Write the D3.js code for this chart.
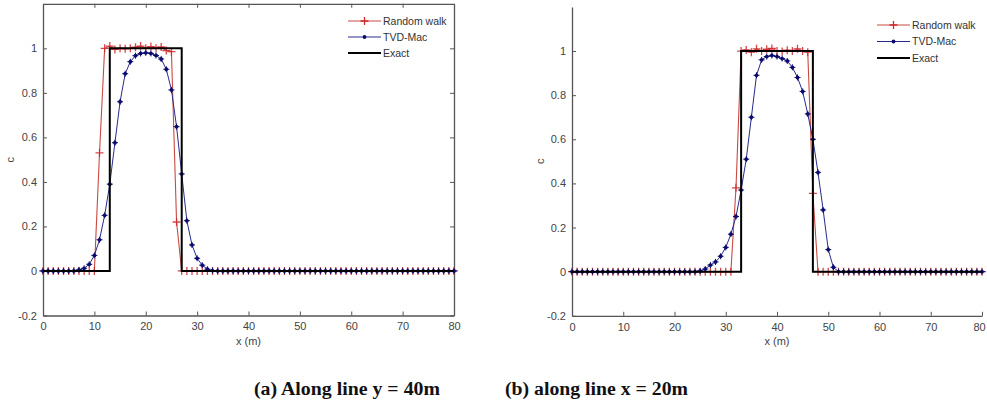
<!DOCTYPE html>
<html>
<head>
<meta charset="utf-8">
<script src="https://cdn.jsdelivr.net/npm/d3@7"></script>
<style>
  body { margin: 0; background: #fff; }
  svg { display: block; }
</style>
</head>
<body>
<div id="chart"></div>
<script>
// x grid (m), shared by both panels
const xGrid = [0,1,2,3,4,5,6,7,8,9,10,11,12,13,14,15,16,17,18,19,20,21,22,23,24,25,26,27,28,29,30,
  31,32,33,34,35,36,37,38,39,40,41,42,43,44,45,46,47,48,49,50,51,52,53,54,55,56,57,58,59,60,
  61,62,63,64,65,66,67,68,69,70,71,72,73,74,75,76,77,78,79,80];

// (a) along line y = 40m
const randomWalkA = [
  0,0,0,0,0,0,0,0,0,0,
  0,0.53,1.00,1.01,0.995,1.0,0.998,1.0,1.005,1.01,
  1.0,1.008,1.0,1.006,0.99,0.985,0.22,0,0,0,
  0,0,0,0,0,0,0,0,0,0,
  0,0,0,0,0,0,0,0,0,0,
  0,0,0,0,0,0,0,0,0,0,
  0,0,0,0,0,0,0,0,0,0,
  0,0,0,0,0,0,0,0,0,0,
  0];
const tvdMacA = [
  0,0,0,0,0,0,0,0.005,0.012,0.03,
  0.07,0.14,0.25,0.39,0.576,0.76,0.886,0.94,0.967,0.977,
  0.98,0.977,0.968,0.952,0.906,0.813,0.648,0.436,0.226,0.117,
  0.057,0.026,0.008,0.002,0,0,0,0,0,0,
  0,0,0,0,0,0,0,0,0,0,
  0,0,0,0,0,0,0,0,0,0,
  0,0,0,0,0,0,0,0,0,0,
  0,0,0,0,0,0,0,0,0,0,
  0];
const exactXA = [0, 13, 13, 27, 27, 80];
const exactYA = [0, 0, 1, 1, 0, 0];

// (b) along line x = 20m
const randomWalkB = [
  0,0,0,0,0,0,0,0,0,0,
  0,0,0,0,0,0,0,0,0,0,
  0,0,0,0,0,0,0,0,0,0,
  0,0,0.38,1.0,1.005,0.995,1.01,1.0,1.008,1.012,
  1.0,0.998,1.004,1.0,1.01,1.0,0.995,0.355,0,0,
  0,0,0,0,0,0,0,0,0,0,
  0,0,0,0,0,0,0,0,0,0,
  0,0,0,0,0,0,0,0,0,0,
  0];
const tvdMacB = [
  0,0,0,0,0,0,0,0,0,0,
  0,0,0,0,0,0,0,0,0,0,
  0,0,0,0,0,0.003,0.012,0.03,0.044,0.07,
  0.11,0.17,0.25,0.37,0.51,0.70,0.89,0.96,0.975,0.98,
  0.975,0.966,0.955,0.926,0.88,0.817,0.715,0.60,0.45,0.28,
  0.10,0.02,0,0,0,0,0,0,0,0,
  0,0,0,0,0,0,0,0,0,0,
  0,0,0,0,0,0,0,0,0,0,
  0];
const exactXB = [0, 33, 33, 47, 47, 80];
const exactYB = [0, 0, 1, 1, 0, 0];

const xTicks = [0, 10, 20, 30, 40, 50, 60, 70, 80];
const yTicks = [-0.2, 0, 0.2, 0.4, 0.6, 0.8, 1];
const yTickLabels = ['-0.2', '0', '0.2', '0.4', '0.6', '0.8', '1'];
const seriesNames = ['Random walk', 'TVD-Mac', 'Exact'];
const captions = ['(a) Along line y = 40m', '(b) along line x = 20m'];

const W = 987, H = 407;
const red = '#c94a44', redMark = '#d0282a', blue = '#2a2a8c', blueMark = '#0c0c6e', axisCol = '#555';

const svg = d3.select('#chart').append('svg')
    .attr('width', W)
    .attr('height', H)
    .style('font-family', '"Liberation Sans", Arial, sans-serif');

const crossPath = r => `M${-r},0H${r}M0,${-r}V${r}`;

function drawPanel(p) {
    const x = d3.scaleLinear().domain([0, 80]).range([p.x0, p.x1]);
    const y = d3.scaleLinear().domain([-0.2, 1.2]).range([p.yBottom, p.yTop]);
    const g = svg.append('g');

    const fmtY = d => yTickLabels[yTicks.indexOf(d)];

    const xAxis = g.append('g')
        .attr('transform', `translate(0,${p.yBottom})`)
        .call(d3.axisBottom(x).tickValues(xTicks).tickSizeInner(-4).tickSizeOuter(0).tickPadding(7).tickFormat(d3.format('d')));
    const yAxis = g.append('g')
        .attr('transform', `translate(${p.x0},0)`)
        .call(d3.axisLeft(y).tickValues(yTicks).tickSizeInner(-4).tickSizeOuter(0).tickPadding(6).tickFormat(fmtY));

    // keep the last x label inside the window
    if (p.x1 > W - 10) {
        xAxis.selectAll('.tick text').filter(d => d === 80).attr('dx', -3);
    }

    if (p.box) {
        g.append('g')
            .attr('transform', `translate(0,${p.yTop})`)
            .call(d3.axisTop(x).tickValues(xTicks).tickSizeInner(-4).tickSizeOuter(0).tickFormat(''));
        g.append('g')
            .attr('transform', `translate(${p.x1},0)`)
            .call(d3.axisRight(y).tickValues(yTicks).tickSizeInner(-4).tickSizeOuter(0).tickFormat(''));
    }
    g.selectAll('.domain').attr('stroke', axisCol).attr('stroke-width', 1.3);
    g.selectAll('.tick line').attr('stroke', axisCol);
    g.selectAll('.tick text').attr('fill', '#444').style('font-size', '11px');

    const pts = vals => xGrid.map((xv, i) => [xv, vals[i]]);
    const line = d3.line().x(d => x(d[0])).y(d => y(d[1]));

    // random walk
    g.append('path').datum(pts(p.rw))
        .attr('fill', 'none').attr('stroke', red).attr('stroke-width', 1.1)
        .attr('d', line);
    g.append('g').selectAll('path').data(pts(p.rw)).join('path')
        .attr('transform', d => `translate(${x(d[0])},${y(d[1])})`)
        .attr('d', crossPath(4))
        .attr('stroke', redMark).attr('stroke-width', 1.3).attr('opacity', 0.85);

    // tvd-mac
    g.append('path').datum(pts(p.tvd))
        .attr('fill', 'none').attr('stroke', blue).attr('stroke-width', 1)
        .attr('d', line);
    const bm = g.append('g').selectAll('g').data(pts(p.tvd)).join('g')
        .attr('transform', d => `translate(${x(d[0])},${y(d[1])})`);
    bm.append('circle').attr('r', 1.9).attr('fill', blueMark);
    bm.append('path').attr('d', crossPath(3)).attr('stroke', blueMark).attr('stroke-width', 1);

    // exact
    g.append('path').datum(p.ex.map((xv, i) => [xv, p.ey[i]]))
        .attr('fill', 'none').attr('stroke', '#000').attr('stroke-width', 2)
        .attr('d', line);

    // axis labels
    g.append('text')
        .attr('x', (p.x0 + p.x1) / 2).attr('y', 345)
        .attr('text-anchor', 'middle').attr('fill', '#444').style('font-size', '11px')
        .text('x (m)');
    g.append('text')
        .attr('transform', `translate(${p.cx},${y(0.5)}) rotate(-90)`)
        .attr('text-anchor', 'middle').attr('fill', '#444').style('font-size', '11px')
        .text('c');

    // legend
    const lg = g.append('g').attr('transform', `translate(${p.lx},${p.ly})`);
    seriesNames.forEach((name, i) => {
        const row = lg.append('g').attr('transform', `translate(0,${i * p.lstep})`);
        const col = i === 0 ? red : i === 1 ? blue : '#000';
        row.append('line').attr('x1', 0).attr('x2', 33).attr('y1', 0).attr('y2', 0)
            .attr('stroke', col).attr('stroke-width', i === 2 ? 2 : 1.1);
        if (i === 0) {
            row.append('path').attr('transform', 'translate(16.5,0)').attr('d', crossPath(4))
                .attr('stroke', redMark).attr('stroke-width', 1.3);
        } else if (i === 1) {
            row.append('circle').attr('cx', 16.5).attr('r', 1.9).attr('fill', blueMark);
        }
        row.append('text').attr('x', 35).attr('y', 3.8)
            .attr('fill', '#333').style('font-size', '10.5px')
            .text(name);
    });

    // caption
    svg.append('text')
        .attr('x', p.capX).attr('y', 395)
        .attr('textLength', p.capW).attr('lengthAdjust', 'spacingAndGlyphs')
        .style('font-family', '"Liberation Serif", "Times New Roman", serif')
        .style('font-weight', 'bold').style('font-size', '18px')
        .attr('fill', '#111')
        .text(p.caption);
}

drawPanel({
    x0: 43, x1: 454, yBottom: 315.5, yTop: 3.8, box: true,
    rw: randomWalkA, tvd: tvdMacA, ex: exactXA, ey: exactYA,
    cx: 14, lx: 348, ly: 21, lstep: 16,
    caption: captions[0], capX: 254, capW: 186
});
drawPanel({
    x0: 572, x1: 982, yBottom: 315.8, yTop: 6.9, box: false,
    rw: randomWalkB, tvd: tvdMacB, ex: exactXB, ey: exactYB,
    cx: 544, lx: 877, ly: 25, lstep: 16.5,
    caption: captions[1], capX: 505, capW: 183
});
</script>
</body>
</html>
